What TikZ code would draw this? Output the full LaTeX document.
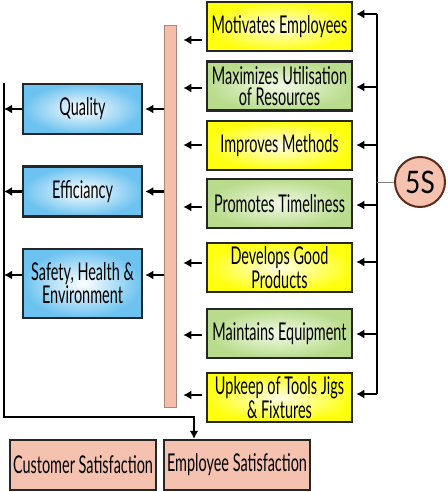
\documentclass[tikz,border=0pt]{standalone}
\usepackage{fontspec}
\setmainfont{Lato}[FakeStretch=0.59]
\usetikzlibrary{arrows.meta}
\definecolor{yelO}{HTML}{FFFF10}
\definecolor{yelI}{HTML}{FFFFE6}
\definecolor{grnO}{HTML}{B8DC8C}
\definecolor{grnI}{HTML}{F2F9E6}
\definecolor{bluO}{HTML}{6CC2F0}
\definecolor{bluI}{HTML}{FFFFFF}
\definecolor{pinkbar}{HTML}{F4BEAB}
\definecolor{pinkbox}{HTML}{F4C2AF}
\definecolor{bord}{HTML}{262626}
\definecolor{circbord}{HTML}{5A2A1A}
\tikzset{
  box/.style={draw=bord, line width=2.5pt, rectangle, align=center, inner sep=0pt,
    font=\fontsize{24.5}{20.5}\selectfont},
  ybox/.style={box, minimum width=145pt, minimum height=49pt, shading=radial, inner color=yelI, outer color=yelO},
  gbox/.style={box, minimum width=145pt, minimum height=49pt, shading=radial, inner color=grnI, outer color=grnO},
  bbox/.style={box, minimum width=119pt, minimum height=50pt, shading=radial, inner color=bluI, outer color=bluO},
  pbox/.style={box, minimum width=146pt, minimum height=50pt, fill=pinkbox},
  arr/.style={line width=2.3pt, -{Latex[length=8pt,width=9pt]}},
  bus/.style={line width=2.6pt, line join=miter},
}
\begin{document}
\begin{tikzpicture}[x=1pt,y=-1pt]
\useasboundingbox (0,0) rectangle (447,492);
% right boxes
\node[ybox] (m1) at (279.5,26.5) {Motivates Employees};
\node[gbox] (m2) at (279.5,86) {Maximizes Utilisation\\of Resources};
\node[ybox] (m3) at (279.5,145.5) {Improves Methods};
\node[gbox] (m4) at (279.5,203.5) {Promotes Timeliness};
\node[ybox] (m5) at (279.5,267.5) {Develops Good\\Products};
\node[gbox] (m6) at (279.5,333.5) {Maintains Equipment};
\node[ybox] (m7) at (279.5,397.5) {Upkeep of Tools Jigs\\\& Fixtures};
% pink bar
\node[draw=pinkbar!70!black, line width=0.6pt, fill=pinkbar, minimum width=12pt, minimum height=382pt, inner sep=0pt] (bar) at (170,216) {};
% blue boxes
\node[bbox] (q) at (82.5,109) {Quality};
\node[bbox] (e) at (82.5,191.5) {Efficiancy};
\node[bbox, minimum height=69pt] (s) at (82.5,283.5) {Safety, Health \&\\Environment};
% bottom boxes
\node[pbox] (cs) at (83,465) {Customer Satisfaction};
\node[pbox] (es) at (237,465) {Employee Satisfaction};
% 5S circle
\node[circle, draw=circbord, line width=2pt, fill=pinkbox, minimum size=50pt, inner sep=0pt,
  font=\fontsize{31}{31}\selectfont\addfontfeatures{FakeStretch=0.85}] (s5) at (420,182) {5S};
% right bus
\coordinate (r1) at (377,14);
\coordinate (r7) at (377,394);
\draw[bus] (r1) -- (r7);
\draw[gray, line width=0.8pt] (s5.west) -- (s5.west -| r1);
\draw[arr, shorten >=3pt] (r1) -- (m1.east |- r1);
\draw[arr, shorten >=3pt] (r1 |- 0,87) -- (m2.east |- 0,87);
\draw[arr, shorten >=3pt] (r1 |- 0,145) -- (m3.east |- 0,145);
\draw[arr, shorten >=3pt] (r1 |- 0,205) -- (m4.east |- 0,205);
\draw[arr, shorten >=3pt] (r1 |- 0,262) -- (m5.east |- 0,262);
\draw[arr, shorten >=3pt] (r1 |- 0,334) -- (m6.east |- 0,334);
\draw[arr, shorten >=3pt] (r7) -- (m7.east |- r7);
% arrows from right boxes to bar
\draw[arr, shorten <=4pt, shorten >=7pt] (m1.west |- 0,40) -- (bar.east |- 0,40);
\draw[arr, shorten <=4pt, shorten >=7pt] (m2.west |- 0,88) -- (bar.east |- 0,88);
\draw[arr, shorten <=4pt, shorten >=7pt] (m3.west |- 0,145) -- (bar.east |- 0,145);
\draw[arr, shorten <=4pt, shorten >=7pt] (m4.west |- 0,207) -- (bar.east |- 0,207);
\draw[arr, shorten <=4pt, shorten >=7pt] (m5.west |- 0,263) -- (bar.east |- 0,263);
\draw[arr, shorten <=4pt, shorten >=7pt] (m6.west |- 0,335) -- (bar.east |- 0,335);
\draw[arr, shorten <=4pt, shorten >=7pt] (m7.west |- 0,395) -- (bar.east |- 0,395);
% bar to blue boxes
\draw[arr, shorten >=2pt] (bar.west |- q.east) -- (q.east);
\draw[arr, shorten >=2pt] (bar.west |- e.east) -- (e.east);
\draw[arr, shorten >=2pt] (bar.west |- 0,275) -- (s.east |- 0,275);
% left bus
\coordinate (L1) at (4,83);
\coordinate (L2) at (4,417);
\draw[arr] (q.west) -- (L1 |- q.west);
\draw[arr] (e.west) -- (L1 |- e.west);
\draw[arr] (s.west |- 0,275) -- (L1 |- 0,275);
\draw[bus, -{Latex[length=8pt,width=9pt]}, line width=2.3pt] (L1) -- (L2) -- (194,417) -- (es.north -| 194,0);
\end{tikzpicture}
\end{document}
